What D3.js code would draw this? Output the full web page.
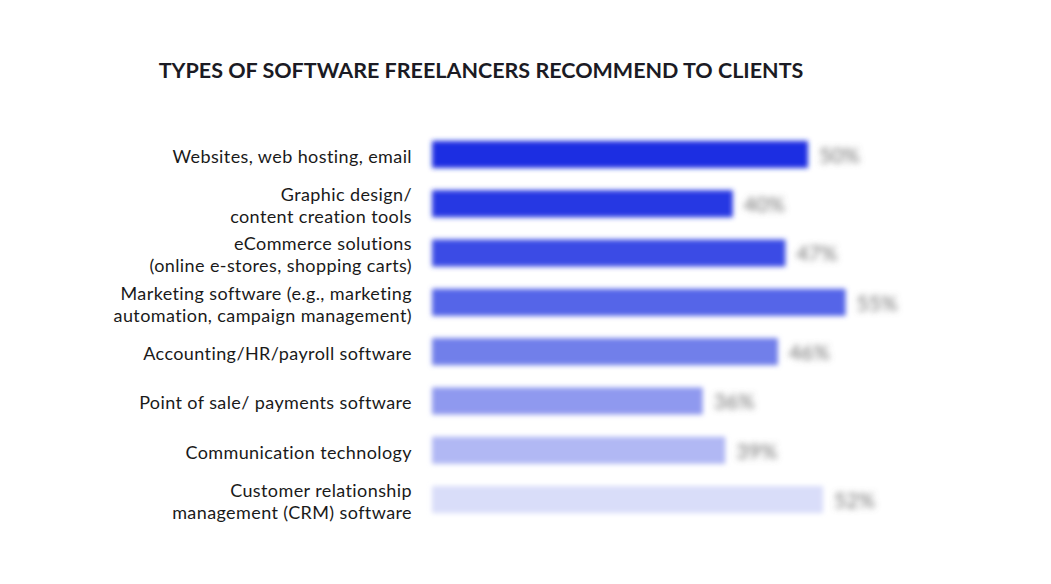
<!DOCTYPE html>
<html>
<head>
<meta charset="utf-8">
<script src="https://cdn.jsdelivr.net/npm/d3@7"></script>
<style>
  body { margin: 0; background: #fff; }
  svg { display: block; font-family: "Lato", "Noto Sans", sans-serif; }
</style>
</head>
<body>
<div id="chart"></div>
<script>
// chart data
var categories = [
    ["Websites, web hosting, email"],
    ["Graphic design/", "content creation tools"],
    ["eCommerce solutions", "(online e-stores, shopping carts)"],
    ["Marketing software (e.g., marketing", "automation, campaign management)"],
    ["Accounting/HR/payroll software"],
    ["Point of sale/ payments software"],
    ["Communication technology"],
    ["Customer relationship", "management (CRM) software"]
];
var values = [50, 40, 47, 55, 46, 36, 39, 52];
var barColors = ["#1b2ee2", "#2538e3", "#3a4be5", "#5565e8", "#717fea", "#8f99ef", "#b1b8f4", "#d9ddf9"];

function init() {
    var w = 1051, h = 584;
    var margin = { top: 130, left: 432, bottom: 60 };

    var svg = d3.select("#chart")
        .append("svg")
        .attr("width", w)
        .attr("height", h);

    var defs = svg.append("defs");
    defs.append("filter").attr("id", "blur")
        .attr("x", "-10%").attr("y", "-50%").attr("width", "120%").attr("height", "200%")
        .append("feGaussianBlur").attr("stdDeviation", 2.8);
    defs.append("filter").attr("id", "blurText")
        .attr("x", "-30%").attr("y", "-50%").attr("width", "160%").attr("height", "200%")
        .append("feGaussianBlur").attr("stdDeviation", 3);

    var xScale = d3.scaleLinear()
        .domain([0, 100])
        .range([margin.left, margin.left + 752]);

    var yScale = d3.scaleBand()
        .domain(d3.range(categories.length))
        .range([131, 523])
        .paddingInner(0.45)
        .paddingOuter(0.2);

    // title
    svg.append("text")
        .attr("x", 481)
        .attr("y", 78)
        .attr("text-anchor", "middle")
        .style("font-size", "21.5px")
        .style("font-weight", "bold")
        .style("fill", "#1b1b24")
        .text("TYPES OF SOFTWARE FREELANCERS RECOMMEND TO CLIENTS");

    // faint axis line
    svg.append("line")
        .attr("x1", 428).attr("x2", 428)
        .attr("y1", 125).attr("y2", 530)
        .attr("stroke", "#cfcfcf")
        .attr("stroke-width", 4)
        .attr("filter", "url(#blur)");

    var bars = svg.append("g").attr("filter", "url(#blur)");
    bars.selectAll("rect")
        .data(values)
        .enter()
        .append("rect")
        .attr("x", xScale(0))
        .attr("y", function(d, i) { return yScale(i); })
        .attr("width", function(d) { return xScale(d) - xScale(0); })
        .attr("height", yScale.bandwidth())
        .attr("fill", function(d, i) { return barColors[i]; });

    // value labels
    svg.append("g").attr("filter", "url(#blurText)")
        .selectAll("text")
        .data(values)
        .enter()
        .append("text")
        .attr("x", function(d) { return xScale(d) + 11; })
        .attr("y", function(d, i) { return yScale(i) + yScale.bandwidth() / 2 + 1; })
        .attr("dy", "0.35em")
        .style("font-size", "21px")
        .style("fill", "#6e6e6e")
        .text(function(d) { return d + "%"; });

    // category labels, one text per line
    var lineGap = 22;
    var lines = [];
    categories.forEach(function(c, i) {
        c.forEach(function(t, j) {
            lines.push({ text: t, row: i, k: j, n: c.length });
        });
    });
    svg.append("g").selectAll("text")
        .data(lines)
        .enter()
        .append("text")
        .attr("text-anchor", "end")
        .attr("x", 412)
        .attr("y", function(d) {
            var c = yScale(d.row) + yScale.bandwidth() / 2 + 2;
            return c - (d.n - 1) * lineGap / 2 + d.k * lineGap;
        })
        .attr("dy", "0.35em")
        .style("font-size", "18px")
        .style("letter-spacing", "0.4px")
        .style("fill", "#1a1a1a")
        .text(function(d) { return d.text; });
}

window.onload = init;
</script>
</body>
</html>
